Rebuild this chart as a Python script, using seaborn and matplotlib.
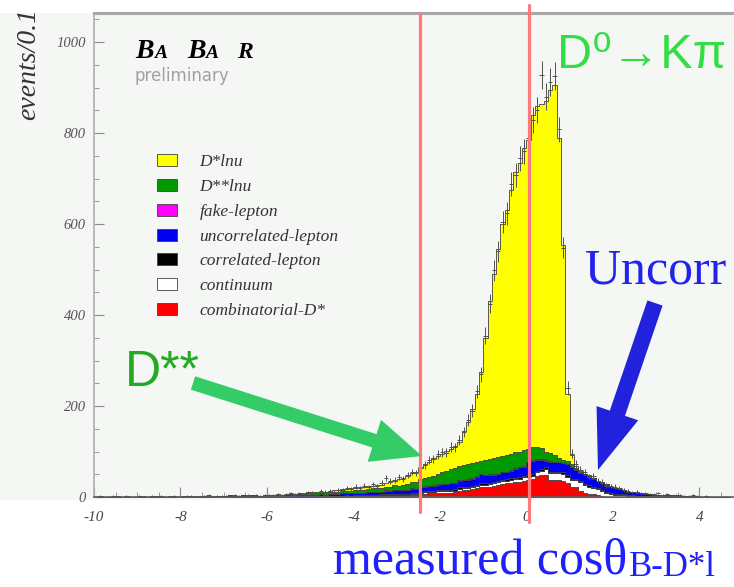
import numpy as np
import pandas as pd
import matplotlib
matplotlib.use("Agg")
import matplotlib.pyplot as plt
import seaborn as sns
from matplotlib.patches import Rectangle, FancyArrow
from matplotlib.ticker import MultipleLocator
from matplotlib.font_manager import FontProperties
from matplotlib.transforms import IdentityTransform

# ---------------- data (events per 0.1 bin, cos theta from -10.0 to 4.7) ----------------
bin_edges = np.round(np.linspace(-10.0, 4.7, 148), 2)

labels = ["D*lnu", "D**lnu", "fake-lepton", "uncorrelated-lepton",
          "correlated-lepton", "continuum", "combinatorial-D*"]
colors = ["#ffff00", "#009a00", "#ff00ff", "#0000f0", "#000000", "#ffffff", "#ff0000"]

dstar = [0,0,0,0,0,0,0,0,0,0,  0,0,0,0,0,0,0,0,0,0,  0,0,0,0,0,0,0,0,0,0,
         0,0,1,0,0,1,0,1,0,1,  1,1,1,1,1,1,2,1,2,2,  2,2,2,3,3,3,4,4,5,5,
         5,6,6,6,6,8,7,7,10,10,  15,15,19,20,23,25,30,35,38,39,
         40,43,45,49,52,75,92,119,148,195,
         268,346,404,456,509,537,580,617,635,663,
         679,731,750,757,770,798,813,704,473,146,
         19,4,2,1,1,0,0,0,0,0,  0,0,0,0,0,0,0,0,0,0,  0,0,0,0,0,0,0,0,0,0,  0,0,0,0,0,0,0]
dss = [0,0,1,0,0,0,1,0,0,0,  0,1,0,0,1,0,0,1,0,0,  1,0,1,0,1,0,1,1,0,1,
       1,1,1,1,1,1,1,1,1,1,  1,1,2,1,2,2,2,2,2,3,  3,3,3,4,4,4,5,5,5,6,
       6,7,6,7,7,8,7,8,9,10,  10,11,12,13,15,16,18,19,21,23,
       26,29,30,33,31,32,34,34,31,29,  33,34,36,38,35,37,36,35,33,36,
       29,27,27,24,19,18,15,9,7,7,  6,3,2,1,1,1,0,1,0,0,
       1,0,1,0,0,1,0,0,1,0,  0,0,0,1,0,0,0,0,0,0,  0,0,0,0,0,0,0]
fake = [0,0,0,0,0,0,0,0,0,0,  0,0,0,0,0,0,0,0,0,0,  0,0,0,0,0,0,0,0,0,0,
        0,0,0,0,0,0,0,0,0,0,  0,0,0,0,0,0,0,0,0,0,  0,0,0,0,0,1,0,0,0,0,
        0,0,0,0,1,0,0,1,0,1,  0,1,0,1,0,1,1,0,1,1,  1,1,1,1,1,1,1,1,2,1,
        1,2,1,1,2,1,2,1,2,1,  1,2,1,2,1,1,1,1,1,1,  1,1,1,1,1,0,1,0,1,0,
        0,1,0,0,0,0,1,0,0,0,  0,0,0,0,0,0,0,0,0,0,  0,0,0,0,0,0,0]
uncorr = [1,1,0,1,1,1,0,1,1,1,  1,1,1,1,1,1,1,1,1,1,  1,1,1,1,1,1,1,1,2,1,
          1,2,1,1,2,1,2,1,2,2,  2,2,2,2,2,3,2,3,3,3,  3,3,4,3,4,4,4,5,4,5,
          5,5,5,6,6,6,6,7,7,8,  8,8,9,9,9,10,10,10,11,11,
          12,12,14,13,15,15,15,15,18,20,  18,17,16,15,16,16,16,20,22,21,
          28,30,24,21,15,22,20,20,20,24,  26,20,17,19,19,17,16,16,16,14,
          12,11,9,7,6,6,5,4,4,3,  3,3,2,2,2,2,1,1,1,1,  1,1,0,1,0,1,0]
corr = [0,0,0,0,0,1,0,0,0,0,  0,0,0,1,0,0,0,0,1,0,  0,0,0,1,0,0,0,0,1,0,
        0,1,0,0,1,0,1,0,0,1,  1,0,1,1,0,1,1,1,1,1,  1,1,1,1,1,1,1,1,2,1,
        2,2,2,2,2,2,2,2,2,2,  2,2,2,2,2,3,3,3,3,3,  3,3,3,3,3,3,3,3,3,3,
        3,3,3,3,3,3,3,3,3,3,  3,3,3,3,3,3,3,3,3,3,  3,3,3,3,3,3,2,2,2,2,
        2,2,2,2,1,1,1,1,1,1,  1,1,1,1,1,1,1,0,1,0,  0,0,1,0,0,0,0]
cont = [0,0,0,0,0,0,0,0,0,0,  0,0,0,0,0,0,0,0,0,0,  0,0,0,0,0,0,0,0,0,0,
        0,0,0,0,0,0,0,0,0,0,  0,0,0,0,0,0,0,0,0,0,  0,0,1,0,0,1,0,1,1,1,
        1,1,1,1,1,1,2,2,2,2,  2,2,2,3,3,3,3,3,3,4,  4,4,4,4,4,4,5,5,5,5,
        5,5,6,6,6,6,7,7,7,7,  7,7,8,9,14,15,16,16,15,15,
        15,16,18,18,16,14,12,10,8,6,  5,4,4,3,3,2,2,2,1,1,
        1,1,1,0,1,0,0,0,0,0,  0,0,0,0,0,0,0]
comb = [0,0,0,0,0,0,0,0,0,0,  0,0,0,0,0,0,0,0,0,0,  0,0,0,0,0,0,0,0,0,0,
        0,0,0,0,0,0,0,0,0,0,  0,0,0,0,0,0,0,0,0,1,  0,1,0,1,1,1,1,1,1,1,
        1,1,1,2,2,2,2,3,3,3,  3,3,3,4,4,6,7,8,8,9,  9,9,9,10,14,15,15,17,19,22,
        22,23,24,26,29,30,31,32,33,36,  38,40,47,49,48,38,37,37,36,30,
        22,21,14,8,7,6,5,3,1,0,  0,0,0,0,0,0,0,0,0,0,
        0,0,0,0,0,0,0,0,0,0,  0,0,0,0,0,0,0]
data_counts = [1,2,0,1,3,1,0,2,1,1,  2,1,0,3,1,2,1,0,2,1,  1,3,2,1,0,2,4,1,2,2,
               3,2,4,2,3,5,2,4,3,4,  5,4,7,5,6,8,6,9,7,10,  10,9,13,11,14,12,16,15,19,18,
               23,19,25,22,28,24,31,42,35,38,  44,40,49,55,53,66,70,81,83,94,
               98,97,110,109,125,143,170,190,232,270,
               355,425,498,540,605,624,688,708,745,760,
               790,828,851,928,880,912,925,808,548,240,
               95,72,60,55,44,46,36,33,25,24,  23,20,16,14,10,12,8,9,6,7,
               9,5,6,3,4,5,2,3,4,2,  1,2,1,0,1,1,0]

cut_lines = [-2.47, 0.05]

series = [dstar, dss, fake, uncorr, corr, cont, comb]
for s in series + [data_counts]:
    assert len(s) == len(bin_edges) - 1, len(s)

centers = (bin_edges[:-1] + bin_edges[1:]) / 2
df = pd.concat([pd.DataFrame({"x": centers, "w": vals, "comp": lab})
                for lab, vals in zip(labels, series)], ignore_index=True)

# ---------------- figure ----------------
sns.set_style("ticks")
plt.rcParams["font.family"] = ["Liberation Serif", "DejaVu Sans"]
plt.rcParams["axes.unicode_minus"] = False

W, H = 734, 587
fig = plt.figure(figsize=(W / 100, H / 100), dpi=100)
fig.patch.set_facecolor("white")
def fx(px): return px / W
def fy(py): return 1 - py / H

bg = "#f4f7f4"
fig.add_artist(Rectangle((0, fy(500)), 1, (500 - 13) / H, transform=fig.transFigure,
                         facecolor=bg, edgecolor="none", zorder=0))

ax = fig.add_axes([fx(94), fy(497), 1 - fx(94), (497 - 13) / H])
ax.set_facecolor(bg)

sns.histplot(data=df, x="x", weights="w", hue="comp", hue_order=labels,
             palette=dict(zip(labels, colors)), bins=list(bin_edges), multiple="stack",
             element="step", fill=True, alpha=1, linewidth=0.6, edgecolor="#404040", ax=ax)

obs = np.array(data_counts, float)
m = obs > 0
ax.errorbar(centers[m], obs[m], yerr=np.sqrt(obs[m]), xerr=0.05, fmt="none",
            ecolor="#505050", elinewidth=0.7, capsize=0, zorder=4)

ax.set_xlim(-10, 4.8)
ax.set_ylim(0, 1064)
ax.set_xlabel("")
ax.set_ylabel("")
xt = [-10, -8, -6, -4, -2, 0, 2, 4]
yt = [0, 200, 400, 600, 800, 1000]
ax.set_xticks(xt, labels=[str(v) for v in xt], fontstyle="italic",
              family="Liberation Serif", fontsize=11, color="#444444")
ax.set_yticks(yt, labels=[str(v) for v in yt], fontstyle="italic",
              family="Liberation Serif", fontsize=10.5, color="#555555")
ax.xaxis.set_minor_locator(MultipleLocator(0.5))
ax.yaxis.set_minor_locator(MultipleLocator(50))
ax.tick_params(which="both", direction="in", color="#888888", top=False, right=False)
ax.tick_params(which="major", length=7, width=0.8)
ax.tick_params(which="minor", length=3.5, width=0.6)
ax.tick_params(axis="y", pad=6)
ax.tick_params(axis="x", pad=10)
ax.spines["right"].set_visible(False)
ax.spines["top"].set_color("#a8a8a8"); ax.spines["top"].set_linewidth(2.2)
ax.spines["left"].set_color("#b0b0b0"); ax.spines["left"].set_linewidth(1.2)
ax.spines["bottom"].set_color("#606060"); ax.spines["bottom"].set_linewidth(1.2)

# legend
sns.move_legend(ax, "upper left", bbox_to_anchor=(fx(157), fy(154)),
                bbox_transform=fig.transFigure, frameon=False, title=None,
                prop=FontProperties(family="Liberation Serif", style="italic", size=12.5),
                handlelength=1.15, handleheight=0.7, labelspacing=0.5,
                handletextpad=1.3, borderpad=0, borderaxespad=0)
for t in ax.legend_.get_texts():
    t.set_color("#333333")

# cut lines
ax.plot([cut_lines[0]] * 2, [-0.031, 1.0], transform=ax.get_xaxis_transform(),
        color="#ff7b7b", lw=2.3, clip_on=False, zorder=6)
ax.plot([cut_lines[1]] * 2, [-0.052, 1.017], transform=ax.get_xaxis_transform(),
        color="#ff7b7b", lw=2.3, clip_on=False, zorder=6)

# y label
fig.text(fx(29), fy(8), "events/0.1", rotation=90, ha="center", va="top",
         fontstyle="italic", fontsize=20, color="#333333", family="Liberation Serif")

# BABAR logo
for s, px, fs in [("B", 135, 20), ("A", 154, 14), ("B", 187, 20), ("A", 205, 14), ("R", 237, 17)]:
    fig.text(fx(px), fy(58), s, fontsize=fs, fontweight="bold", fontstyle="italic",
             family="Liberation Serif", color="black", va="baseline")
fig.text(fx(135), fy(81), "preliminary", fontsize=12, color="#a0a0a0",
         family="DejaVu Sans", va="baseline")

# annotations
fig.text(fx(557), fy(68), "D⁰→Kπ", color="#33dd44", fontsize=35,
         family=["Liberation Sans", "DejaVu Sans"], va="baseline")
fig.text(fx(125), fy(386), "D**", color="#22aa22", fontsize=36,
         family="Liberation Sans", va="baseline")
fig.text(fx(585), fy(284), "Uncorr", color="#2222ee", fontsize=36,
         family="Liberation Serif", va="baseline")
mt = fig.text(fx(333), fy(573), "measured cosθ", color="#2020ff", fontsize=36,
              family="Liberation Serif", va="baseline")
ax.annotate("B-D*l", xy=(1, 0), xycoords=mt, xytext=(1, 0), textcoords="offset points",
            color="#2020ff", fontsize=25, family="Liberation Serif", va="bottom",
            annotation_clip=False)

fig.add_artist(FancyArrow(193, H - 383, 229, -73, width=14, head_width=44, head_length=50,
                          length_includes_head=True, color="#33cc66", lw=0,
                          transform=IdentityTransform(), zorder=8))
fig.add_artist(FancyArrow(655, H - 303, -57, -167, width=16, head_width=44, head_length=60,
                          length_includes_head=True, color="#2222dd", lw=0,
                          transform=IdentityTransform(), zorder=8))

fig.savefig("out.png", dpi=100)
